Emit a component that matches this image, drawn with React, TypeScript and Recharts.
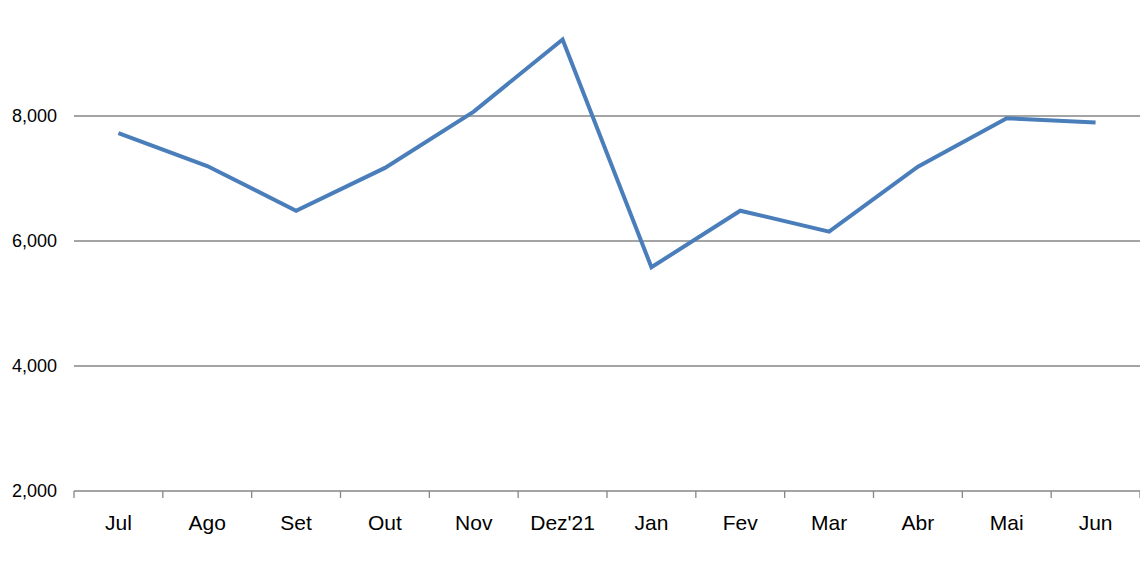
import React from 'react';
import { LineChart, Line, XAxis, YAxis, CartesianGrid } from 'recharts';

const months = ['Jul', 'Ago', 'Set', 'Out', 'Nov', "Dez'21", 'Jan', 'Fev', 'Mar', 'Abr', 'Mai', 'Jun'];
const values = [7725, 7200, 6485, 7170, 8070, 9225, 5580, 6485, 6150, 7190, 7965, 7895];
const yTicks = [2000, 4000, 6000, 8000];
const gridValues = [4000, 6000, 8000];

const data = months.map((m, i) => ({ month: m, value: values[i] }));

const CHART_W = 1140;
const CHART_H = 570;
const Y_AXIS_W = 74;
const PLOT_W = CHART_W - Y_AXIS_W;
const AXIS_GRAY = '#868686';
const FONT = '"Liberation Sans", Arial, sans-serif';

// Excel puts the tick marks between categories, not under them
const MonthTick = (props: any) => {
  const { x, y, payload, index } = props;
  const half = PLOT_W / months.length / 2;
  return (
    <g>
      <line x1={x - half} x2={x - half} y1={y - 7} y2={y} stroke={AXIS_GRAY} strokeWidth={1.3} />
      {index === months.length - 1 && (
        <line x1={x + half} x2={x + half} y1={y - 7} y2={y} stroke={AXIS_GRAY} strokeWidth={1.3} />
      )}
      <text x={x} y={y + 32} textAnchor="middle" fontSize={21} fontFamily={FONT} fill="#000">
        {payload.value}
      </text>
    </g>
  );
};

const formatThousands = (v: number) => v.toLocaleString('en-US');

export default function App() {
  return (
    <div style={{ position: 'absolute', left: 0, top: 0, background: '#fff' }}>
      <LineChart width={CHART_W} height={CHART_H} data={data} margin={{ top: 0, right: 0, left: 0, bottom: 0 }}>
        <CartesianGrid vertical={false} horizontalValues={gridValues} stroke={AXIS_GRAY} strokeWidth={1.3} />
        <XAxis
          dataKey="month"
          scale="band"
          height={79}
          axisLine={{ stroke: AXIS_GRAY, strokeWidth: 1.3 }}
          tickLine={false}
          tickSize={7}
          tickMargin={0}
          interval={0}
          tick={<MonthTick />}
        />
        <YAxis
          width={Y_AXIS_W}
          domain={[2000, 9856]}
          allowDataOverflow
          ticks={yTicks}
          axisLine={false}
          tickLine={false}
          tickSize={6}
          tickMargin={11}
          tickFormatter={formatThousands}
          tick={{ fontSize: 18, fontFamily: FONT, fill: '#000' }}
        />
        <Line
          type="linear"
          dataKey="value"
          stroke="#4A7EBB"
          strokeWidth={4}
          dot={false}
          activeDot={false}
          isAnimationActive={false}
        />
      </LineChart>
    </div>
  );
}
